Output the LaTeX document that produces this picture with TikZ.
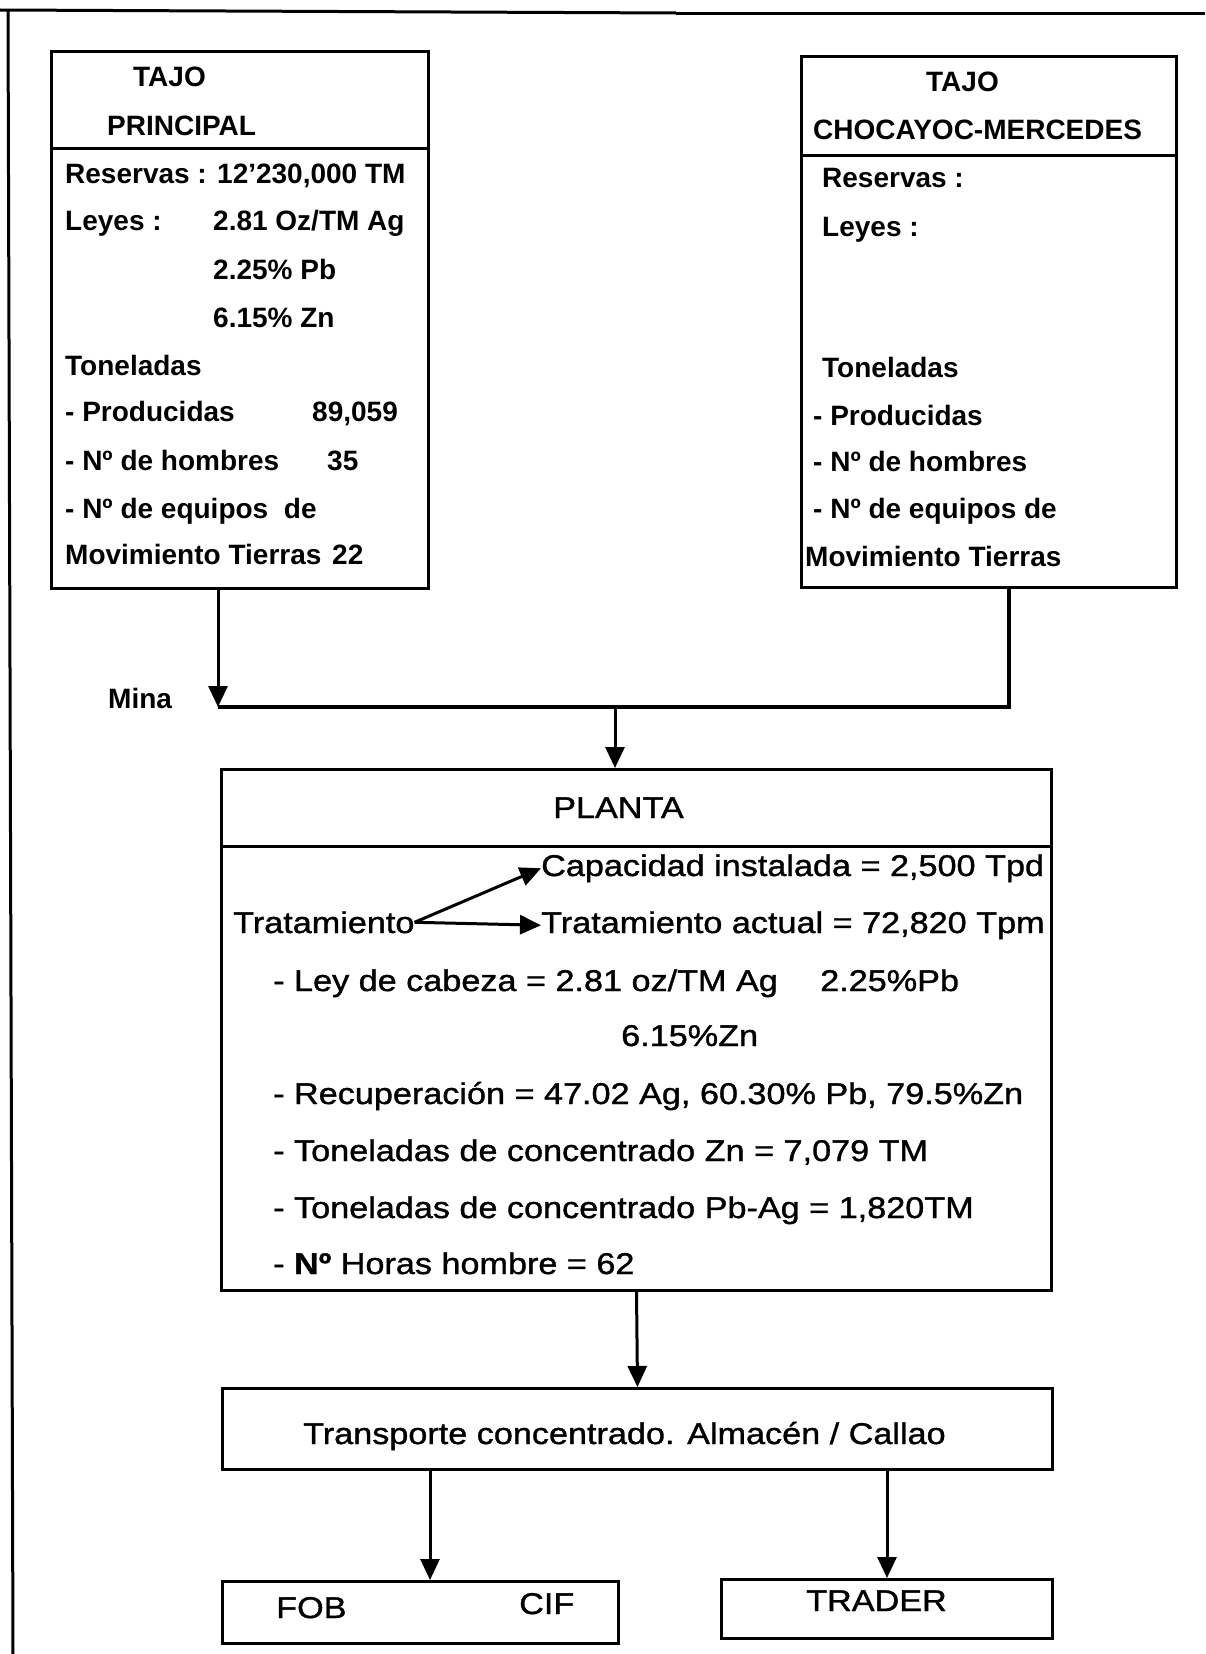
\documentclass[tikz,border=0pt]{standalone}
\usepackage{fontspec}
\setmainfont{Liberation Sans}
\newfontfamily\widefont{Liberation Sans}[FakeStretch=1.14,FakeBold=1.2]
\usetikzlibrary{arrows.meta}

\tikzset{
  boxframe/.style={draw, line width=3pt, inner sep=0pt, anchor=north west},
  toptxt/.style={anchor=base west, inner sep=0pt, font=\fontsize{28}{28}\selectfont\bfseries},
  lowtxt/.style={anchor=base west, inner sep=0pt, font=\widefont\fontsize{30}{30}\selectfont},
  flow/.style={line width=3pt, -{Triangle[length=21pt,width=19pt]}},
  joinline/.style={line width=3.4pt},
}

\begin{document}
\begin{tikzpicture}[x=1pt,y=-1pt]
\useasboundingbox (0,0) rectangle (1205,1654);

% outer frame (left and top edges)
\draw[line width=3pt] (0,10) -- (676,13);
\draw[line width=3pt] (676,14) -- (1205,14);
\draw[line width=3pt] (8,10) -- (13,1654);

% ---- Tajo Principal ----
\node[boxframe, minimum width=377pt, minimum height=97pt] (tph) at (50,50) {};
\node[boxframe, minimum width=377pt, minimum height=440pt] (tpb) at (50,147) {};
\node[toptxt] (tpA) at (133,86) {TAJO};
\node[toptxt] (tpB) at (107,135) {PRINCIPAL};
\node[toptxt] (tp1) at (65,183) {Reservas : 12'230,000 TM};
\node[toptxt] (tp2) at (65,230) {Leyes :};
\node[toptxt] (tp2v) at (213,230) {2.81 Oz/TM Ag};
\node[toptxt] (tp3) at (213,279) {2.25\% Pb};
\node[toptxt] (tp4) at (213,327) {6.15\% Zn};
\node[toptxt] (tp5) at (65,375) {Toneladas};
\node[toptxt] (tp6) at (65,421) {- Producidas};
\node[toptxt] (tp6v) at (312,421) {89,059};
\node[toptxt] (tp7) at (65,470) {- Nº de hombres};
\node[toptxt] (tp7v) at (327,470) {35};
\node[toptxt] (tp8) at (65,518) {- Nº de equipos\hspace{15.6pt}de};
\node[toptxt] (tp9) at (65,564) {Movimiento Tierras};
\node[toptxt] (tp9v) at (332,564) {22};

% ---- Tajo Chocayoc-Mercedes ----
\node[boxframe, minimum width=375pt, minimum height=99pt] (cmh) at (800,55) {};
\node[boxframe, minimum width=375pt, minimum height=432pt] (cmb) at (800,154) {};
\node[toptxt] (cmA) at (926,91) {TAJO};
\node[toptxt] (cmB) at (813,139) {CHOCAYOC-MERCEDES};
\node[toptxt] (cm1) at (822,187) {Reservas :};
\node[toptxt] (cm2) at (822,236) {Leyes :};
\node[toptxt] (cm3) at (822,377) {Toneladas};
\node[toptxt] (cm4) at (813,425) {- Producidas};
\node[toptxt] (cm5) at (813,471) {- Nº de hombres};
\node[toptxt] (cm6) at (813,518) {- Nº de equipos de};
\node[toptxt] (cm7) at (805,566) {Movimiento Tierras};

% ---- junction of both pits ----
\coordinate (jl) at (218,707);
\coordinate (jr) at (1009,707);
\coordinate (jm) at (615,707);
\node[toptxt] (mina) at (108,708) {Mina};
\draw[flow] (jl |- tpb.south) -- (jl);
\draw[joinline] (jr |- cmb.south) -- (jr) -- (jl);

% ---- Planta ----
\node[boxframe, minimum width=830pt, minimum height=77pt] (plh) at (220,768) {};
\node[boxframe, minimum width=830pt, minimum height=444pt] (plb) at (220,845) {};
\draw[flow] (jm) -- (jm |- plh.north);
\node[lowtxt] (plt) at (553,818) {PLANTA};
\node[lowtxt] (cap) at (541,876) {Capacidad instalada = 2,500 Tpd};
\node[lowtxt] (trat) at (233,933) {Tratamiento};
\node[lowtxt] (tact) at (541,933) {Tratamiento actual = 72,820 Tpm};
\draw[flow] (trat.east) -- (cap.west);
\draw[flow] (trat.east) -- (tact.west);
\node[lowtxt] (ley) at (273,991) {- Ley de cabeza = 2.81 oz/TM Ag};
\node[lowtxt] (leyb) at (820,991) {2.25\%Pb};
\node[lowtxt] (leyc) at (621,1046) {6.15\%Zn};
\node[lowtxt] (rec) at (273,1104) {- Recuperación = 47.02 Ag, 60.30\% Pb, 79.5\%Zn};
\node[lowtxt] (zn) at (273,1161) {- Toneladas de concentrado Zn = 7,079 TM};
\node[lowtxt] (pbag) at (273,1218) {- Toneladas de concentrado Pb-Ag = 1,820TM};
\node[lowtxt] (hh) at (273,1274) {- {\bfseries Nº} Horas hombre = 62};

% ---- Transporte ----
\node[boxframe, minimum width=830pt, minimum height=81pt] (tr) at (221,1387) {};
\node[lowtxt] (trt) at (303,1444) {Transporte concentrado. Almacén / Callao};
\draw[flow] (plb.south) -- (tr.north);

% ---- Destinos ----
\node[boxframe, minimum width=396pt, minimum height=62pt] (fob) at (221,1580) {};
\node[boxframe, minimum width=331pt, minimum height=59pt] (trader) at (720,1578) {};
\node[lowtxt] (fobt) at (276,1618) {FOB};
\node[lowtxt] (cift) at (519,1614) {CIF};
\node[lowtxt] (trdt) at (806,1611) {TRADER};
\path (tr.south west) ++(209,0) coordinate (t1);
\draw[flow] (t1) -- (t1 |- fob.north);
\draw[flow] (trader.north |- tr.south) -- (trader.north);
\end{tikzpicture}
\end{document}
